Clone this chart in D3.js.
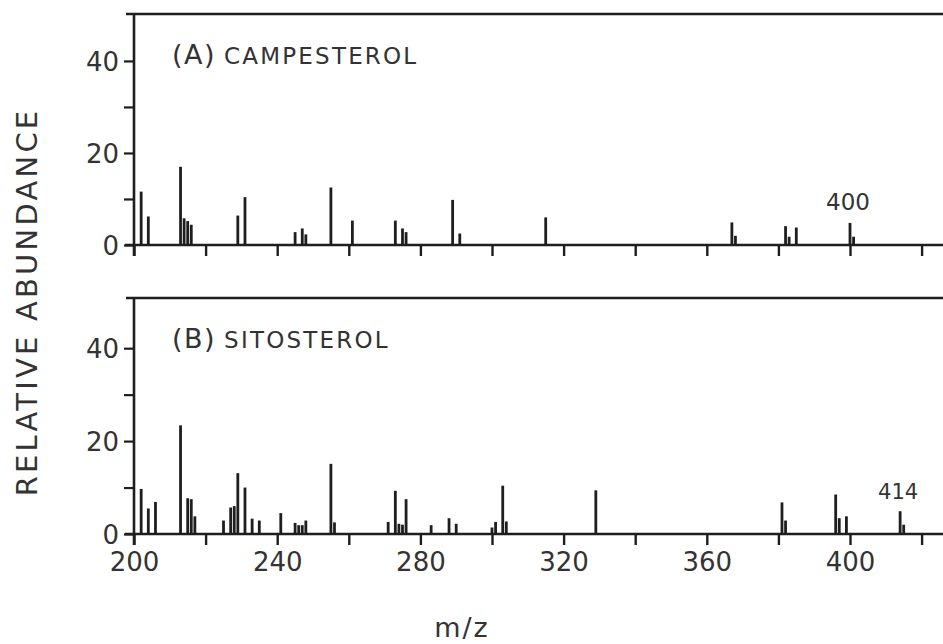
<!DOCTYPE html>
<html>
<head>
<meta charset="utf-8">
<script src="https://cdn.jsdelivr.net/npm/d3@7"></script>
<style>
  body { margin: 0; background: #fff; }
  svg { display: block; }
</style>
</head>
<body>
<svg width="943" height="644"></svg>
<script>
// spectra (m/z, relative abundance)
const campMz = [202, 204, 213, 214, 215, 216, 229, 231, 245, 247, 248, 255, 261, 273, 275, 276, 289, 291, 315, 367, 368, 382, 383, 385, 400, 401];
const campAb = [11.6, 6.2, 17.0, 5.8, 5.2, 4.4, 6.4, 10.4, 2.8, 3.6, 2.3, 12.5, 5.3, 5.3, 3.6, 2.8, 9.8, 2.5, 6.0, 4.9, 2.0, 4.1, 1.8, 3.8, 4.8, 1.8];

const sitoMz = [202, 204, 206, 213, 215, 216, 217, 225, 227, 228, 229, 231, 233, 235, 241, 245, 246, 247, 248, 255, 256, 271, 273, 274, 275, 276, 283, 288, 290, 300, 301, 303, 304, 329, 381, 382, 396, 397, 399, 414, 415];
const sitoAb = [9.7, 5.5, 6.9, 23.4, 7.7, 7.5, 3.8, 2.9, 5.7, 6.0, 13.1, 10.0, 3.3, 2.9, 4.5, 2.4, 1.9, 1.9, 2.9, 15.1, 2.5, 2.6, 9.3, 2.2, 2.0, 7.5, 1.9, 3.4, 2.2, 1.4, 2.6, 10.4, 2.7, 9.4, 6.8, 2.9, 8.5, 3.4, 3.8, 4.9, 2.0];

const xTicks = [200, 220, 240, 260, 280, 300, 320, 340, 360, 380, 400, 420];
const xLabels = [200, 240, 280, 320, 360, 400];
const yTicks = [0, 10, 20, 30, 40];
const yLabels = [0, 20, 40];

const panels = [
    { name: "(A)", compound: "CAMPESTEROL", mz: campMz, ab: campAb, ion: 400, ionLabel: "400", y0: 245, yTop: 14, yMax: 50.2 },
    { name: "(B)", compound: "SITOSTEROL", mz: sitoMz, ab: sitoAb, ion: 414, ionLabel: "414", y0: 534, yTop: 298, yMax: 50.8 }
];

const width = 943;
const ink = "#1e1e1e";
const font = "DejaVu Sans, sans-serif";

const x = d3.scaleLinear().domain([200, 400]).range([134, 850]);

const svg = d3.select("svg")
    .attr("font-family", font)
    .attr("fill", ink);

panels.forEach((p, idx) => {
    const y = d3.scaleLinear().domain([0, p.yMax]).range([p.y0, p.yTop]);
    const g = svg.append("g");

    // peaks
    g.append("g")
        .attr("stroke", ink)
        .attr("stroke-width", 2.8)
      .selectAll("line")
      .data(p.mz.map((m, i) => ({ m, a: p.ab[i] })))
      .join("line")
        .attr("x1", d => x(d.m))
        .attr("x2", d => x(d.m))
        .attr("y1", y(0))
        .attr("y2", d => y(d.a));

    // frame: top line, left axis, baseline
    g.append("line")
        .attr("x1", x(200) - 8).attr("x2", width)
        .attr("y1", y(p.yMax)).attr("y2", y(p.yMax))
        .attr("stroke", ink).attr("stroke-width", 2.4);

    const yAxis = d3.axisLeft(y)
        .tickValues(yTicks)
        .tickSize(10)
        .tickPadding(5)
        .tickFormat(d => yLabels.includes(d) ? d : "");
    const ya = g.append("g")
        .attr("transform", `translate(${x(200)},0)`)
        .call(yAxis);
    ya.select(".domain").remove();
    ya.selectAll("line").attr("stroke", ink).attr("stroke-width", 2.2);
    ya.selectAll("text")
        .attr("font-family", font)
        .attr("font-size", 26)
        .attr("fill", "#333")
        .attr("dy", "0.36em");

    g.append("line")
        .attr("x1", x(200)).attr("x2", x(200))
        .attr("y1", y(p.yMax)).attr("y2", y(0) + 11)
        .attr("stroke", ink).attr("stroke-width", 2.6);

    const xAxis = d3.axisBottom(x)
        .tickValues(xTicks)
        .tickSize(11)
        .tickPadding(8)
        .tickFormat(d => idx === 1 && xLabels.includes(d) ? d : "");
    const xa = g.append("g")
        .attr("transform", `translate(0,${y(0)})`)
        .call(xAxis);
    xa.select(".domain").remove();
    xa.selectAll("line").attr("stroke", ink).attr("stroke-width", 2.4);
    xa.selectAll("text")
        .attr("font-family", font)
        .attr("font-size", 26)
        .attr("fill", "#333");

    g.append("line")
        .attr("x1", x(200) - 9).attr("x2", width)
        .attr("y1", y(0)).attr("y2", y(0))
        .attr("stroke", ink).attr("stroke-width", 2.6);

    // panel title
    const t = g.append("text")
        .attr("x", 172)
        .attr("y", y(p.yMax) + 50)
        .attr("fill", "#333");
    t.append("tspan").attr("font-size", 27).attr("letter-spacing", 1.5).text(p.name);
    t.append("tspan").attr("font-size", 23).attr("letter-spacing", 2.2).attr("dx", 8).text(p.compound);

    // molecular ion label
    g.append("text")
        .attr("x", x(p.ion) - 2)
        .attr("y", y(0) - 35)
        .attr("text-anchor", "middle")
        .attr("font-size", idx === 0 ? 23 : 21)
        .attr("fill", "#333")
        .text(p.ionLabel);
});

svg.append("text")
    .attr("transform", "translate(37,302) rotate(-90)")
    .attr("text-anchor", "middle")
    .attr("font-size", 29)
    .attr("letter-spacing", 3.2)
    .attr("fill", "#333")
    .text("RELATIVE ABUNDANCE");

svg.append("text")
    .attr("x", 462)
    .attr("y", 637)
    .attr("text-anchor", "middle")
    .attr("font-size", 27)
    .attr("letter-spacing", 2)
    .attr("fill", "#333")
    .text("m/z");
</script>
</body>
</html>
